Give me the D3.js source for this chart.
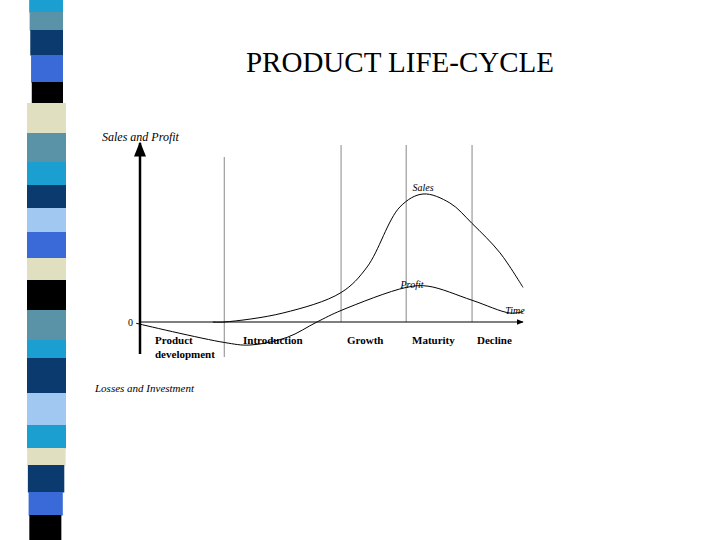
<!DOCTYPE html><html><head><meta charset="utf-8"><script src="https://cdn.jsdelivr.net/npm/d3@7"></script>
<style>body{margin:0;background:#fff}</style></head><body><svg id="c" width="720" height="540"></svg>
<script>
const stripColors=["#1a9fd0","#5a93a8","#0a3a6e","#3a6ad8","#000000","#e0dfc0","#5a93a8","#1a9fd0","#0a3a6e","#a0c8f0","#3a6ad8","#e0dfc0","#000000","#5a93a8","#1a9fd0","#0a3a6e","#a0c8f0","#1a9fd0","#e0dfc0","#0a3a6e","#3a6ad8","#000000"];
const stripBreaks=[0,12,30,55,82,103,133,162,185,208,232,258,280,310,340,358,393,425,448,465,492,515,540];
const stages=["Product\ndevelopment","Introduction","Growth","Maturity","Decline"];
const stageBounds=[22,52.5,69.5,86.7];
const salesT=[19,22,37.3,52.5,59.3,67.9,73.9,80.9,86.7,94,100];
const salesV=[0,0,7,23,43,90,100,93,77,54,27];
const profitT=[-1,22,28.7,38.4,46.2,52.5,69.5,75.2,86.7,96.6,100];
const profitV=[-1,-16,-18,-12,0,9,27,28,17,7,8];

const svg=d3.select("#c");
// strip
const sy=d3.scaleLinear().domain([0,540]).range([0,540]);
stripColors.forEach((c,i)=>{
  const y0=stripBreaks[i],y1=stripBreaks[i+1],m=(y0+y1)/2;
  const l=m<100?32-(100-m)*0.03:m<450?27:27+(m-450)*0.03;
  const r=m<100?63:m<450?66:66-(m-450)*0.06;
  svg.append("rect").attr("x",l).attr("y",sy(y0)).attr("width",r-l).attr("height",sy(y1)-sy(y0)+0.5).attr("fill",c);
});
const x=d3.scaleLinear().domain([0,100]).range([140,523]);
const y=d3.scaleLinear().domain([0,100]).range([322,194]);
const serif="'Liberation Serif','Times New Roman',serif";
svg.append("text").attr("x",400).attr("y",72).attr("text-anchor","middle").attr("font-family",serif).attr("font-size",29).text("PRODUCT LIFE-CYCLE");
// grid lines
stageBounds.forEach((t,i)=>{
  svg.append("line").attr("x1",x(t)).attr("x2",x(t)).attr("y1",i==0?157:145).attr("y2",i==0?357:322).attr("stroke","#888").attr("stroke-width",1);
});
// axes
svg.append("defs").append("marker").attr("id","ar").attr("viewBox","0 0 10 10").attr("refX",9).attr("refY",5).attr("markerWidth",6).attr("markerHeight",6).attr("orient","auto").append("path").attr("d","M0,1L10,5L0,9z").attr("fill","#000");
svg.append("line").attr("x1",x(0)).attr("x2",x(0)).attr("y1",354).attr("y2",143).attr("stroke","#000").attr("stroke-width",2.5).attr("marker-end","url(#ar)");
svg.append("line").attr("x1",x(0)).attr("x2",x(100)).attr("y1",y(0)).attr("y2",y(0)).attr("stroke","#000").attr("stroke-width",1.2).attr("marker-end","url(#ar)");
const line=d3.line().x(d=>x(d[0])).y(d=>y(d[1])).curve(d3.curveCatmullRom);
svg.append("path").attr("d",line(salesT.map((t,i)=>[t,salesV[i]]))).attr("fill","none").attr("stroke","#000");
svg.append("path").attr("d",line(profitT.map((t,i)=>[t,profitV[i]]))).attr("fill","none").attr("stroke","#000");
function txt(px,py,s,size,it,bold,anchor){svg.append("text").attr("x",px).attr("y",py).attr("font-family",serif).attr("font-size",size).attr("font-style",it?"italic":"normal").attr("font-weight",bold?"bold":"normal").attr("text-anchor",anchor||"start").text(s);}
txt(102,141,"Sales and Profit",12,true);
txt(423,191,"Sales",10,true,false,"middle");
txt(412,288,"Profit",10,true,false,"middle");
txt(515,314,"Time",10,true,false,"middle");
txt(133,326,"0",10,false,false,"end");
txt(95,392,"Losses and Investment",11,true);
const stageX=[155,243,347,412,477];
stages.forEach((s,i)=>s.split("\n").forEach((p,j)=>txt(stageX[i],344+j*14,p,11,false,true)));
</script></body></html>
